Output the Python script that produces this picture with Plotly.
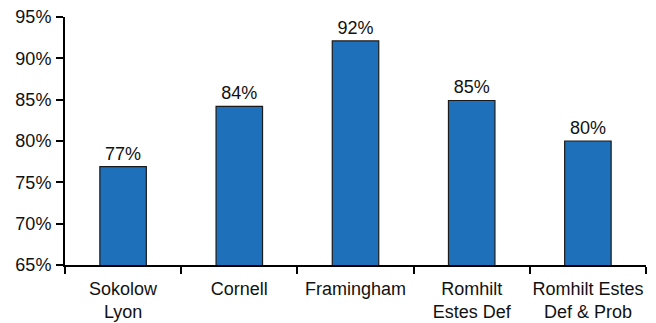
import plotly.graph_objects as go

categories = ["Sokolow<br>Lyon", "Cornell", "Framingham", "Romhilt<br>Estes Def", "Romhilt Estes<br>Def & Prob"]
values = [76.9, 84.2, 92.1, 84.9, 80.0]
labels = ["77%", "84%", "92%", "85%", "80%"]
yticks = [65, 70, 75, 80, 85, 90, 95]
yticktext = ["65%", "70%", "75%", "80%", "85%", "90%", "95%"]

fig = go.Figure(go.Bar(
    x=categories, y=values, text=labels, textposition="outside",
    textfont=dict(size=18, color="#111"),
    marker=dict(color="#1f70bb", line=dict(color="#1a1a1a", width=1.2)),
    width=0.4, cliponaxis=False,
))
fig.update_layout(
    width=656, height=323,
    margin=dict(l=65, r=10, t=17, b=58),
    paper_bgcolor="white", plot_bgcolor="white",
    font=dict(family="Liberation Sans, Arial, sans-serif", size=18, color="#111"),
    showlegend=False,
)
fig.update_yaxes(range=[65, 95], tickvals=yticks, ticktext=yticktext,
                 showline=True, linecolor="black", linewidth=2,
                 ticks="outside", ticklen=7, tickwidth=2, tickcolor="black",
                 tickfont=dict(size=18), automargin=False, ticklabelstandoff=1,
                 showgrid=False, zeroline=False)
fig.update_xaxes(showline=True, linecolor="black", linewidth=2,
                 ticks="outside", tickson="boundaries", ticklen=7, tickwidth=2,
                 tickcolor="black", tickfont=dict(size=18), ticklabelstandoff=6,
                 tickangle=0, automargin=False,
                 showgrid=False)
fig.write_html("out.html")
